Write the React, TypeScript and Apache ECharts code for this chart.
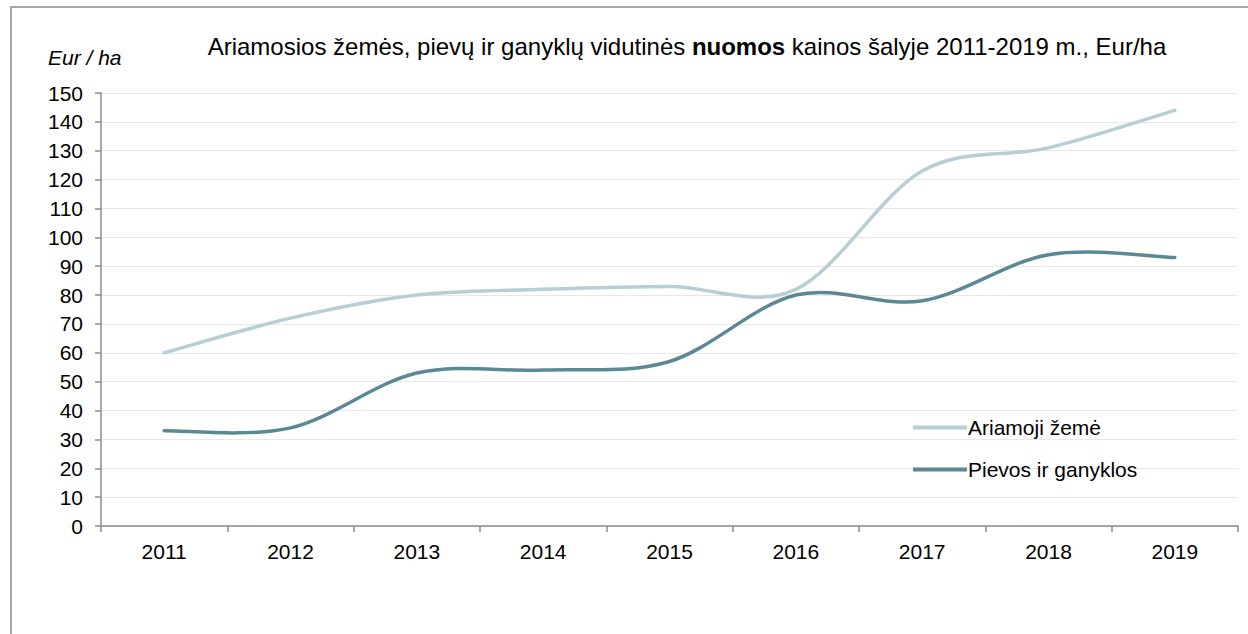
import React, { useEffect, useRef } from "react";
import * as echarts from "echarts";

const years = ["2011", "2012", "2013", "2014", "2015", "2016", "2017", "2018", "2019"];
const arableLand = [60, 72, 80, 82, 83, 82, 123, 131, 144];
const meadows = [33, 34, 53, 54, 57, 80, 78, 94, 93];
const seriesNames = ["Ariamoji žemė", "Pievos ir ganyklos"];
const seriesColors = ["#b6ced4", "#5a8993"];

function smoothSeries(name: string, values: number[], color: string) {
  return {
    name,
    type: "custom",
    clip: false,
    encode: { x: 0, y: 1 },
    color,
    itemStyle: { color },
    data: values.map((v, i) => [i, v]),
    renderItem: (params: any, api: any) => {
      if (params.dataIndex !== 0) return null;
      const pts = values.map((v, i) => api.coord([i, v]));
      const n = pts.length;
      let d = `M${pts[0][0]},${pts[0][1]}`;
      for (let i = 0; i < n - 1; i++) {
        const p0 = pts[Math.max(i - 1, 0)];
        const p1 = pts[i];
        const p2 = pts[i + 1];
        const p3 = pts[Math.min(i + 2, n - 1)];
        const c1x = p1[0] + (p2[0] - p0[0]) / 6;
        const c1y = p1[1] + (p2[1] - p0[1]) / 6;
        const c2x = p2[0] - (p3[0] - p1[0]) / 6;
        const c2y = p2[1] - (p3[1] - p1[1]) / 6;
        d += ` C${c1x},${c1y} ${c2x},${c2y} ${p2[0]},${p2[1]}`;
      }
      return {
        type: "path",
        shape: { pathData: d },
        style: { fill: "none", stroke: color, lineWidth: 3.5, lineCap: "round", lineJoin: "round" },
        silent: true,
      };
    },
  };
}

export default function App() {
  const ref = useRef<HTMLDivElement>(null);
  useEffect(() => {
    const chart = echarts.init(ref.current!, null, { renderer: "svg" });
    const font = "Liberation Sans";
    chart.setOption({
      animation: false,
      backgroundColor: "#ffffff",
      textStyle: { fontFamily: font },
      graphic: [
        {
          type: "rect",
          shape: { x: 11, y: 7, width: 1300, height: 700 },
          style: { fill: "none", stroke: "#a6a6a6", lineWidth: 2 },
          silent: true,
        },
        {
          type: "text",
          x: 687,
          y: 34,
          style: {
            text: "{n|Ariamosios žemės, pievų ir ganyklų vidutinės }{b|nuomos}{n| kainos šalyje 2011-2019 m., Eur/ha}",
            align: "center",
            verticalAlign: "top",
            fontFamily: font,
            fontSize: 24,
            fill: "#000",
            rich: {
              n: { fontFamily: font, fontSize: 24, fontWeight: "normal", fill: "#000" },
              b: { fontFamily: font, fontSize: 24, fontWeight: "bold", fill: "#000" },
            },
          },
        },
        {
          type: "text",
          left: 48,
          top: 47,
          style: { text: "Eur / ha", fontFamily: font, fontSize: 21, fontStyle: "italic", fill: "#000" },
        },
      ],
      grid: { left: 101, right: 10, top: 93, bottom: 108, containLabel: false },
      legend: {
        orient: "vertical",
        left: 908,
        top: 412,
        itemWidth: 54,
        itemHeight: 4,
        itemGap: 21,
        icon: "rect",
        data: seriesNames.map((name, i) => ({ name, itemStyle: { color: seriesColors[i] } })),
        textStyle: { fontFamily: font, fontSize: 21, color: "#000", padding: [0, 0, 0, -4] },
      },
      xAxis: {
        type: "category",
        data: years,
        boundaryGap: true,
        axisLine: { lineStyle: { color: "#8c8c8c", width: 1.5 } },
        axisTick: { show: true, length: 6, alignWithLabel: false, lineStyle: { color: "#8c8c8c", width: 1.5 } },
        axisLabel: { fontFamily: font, fontSize: 21, color: "#000", margin: 15 },
      },
      yAxis: {
        type: "value",
        min: 0,
        max: 150,
        interval: 10,
        axisLine: { show: true, lineStyle: { color: "#8c8c8c", width: 1.5 } },
        axisTick: { show: true, length: 6, lineStyle: { color: "#8c8c8c", width: 1.5 } },
        axisLabel: { fontFamily: font, fontSize: 21, color: "#000", margin: 18 },
        splitLine: { lineStyle: { color: "#e8e8e8", width: 1 } },
      },
      series: [
        smoothSeries(seriesNames[0], arableLand, seriesColors[0]),
        smoothSeries(seriesNames[1], meadows, seriesColors[1]),
      ],
    });
    return () => chart.dispose();
  }, []);
  return (
    <div
      ref={ref}
      style={{ position: "fixed", left: 0, top: 0, width: 1248, height: 634 }}
    />
  );
}
